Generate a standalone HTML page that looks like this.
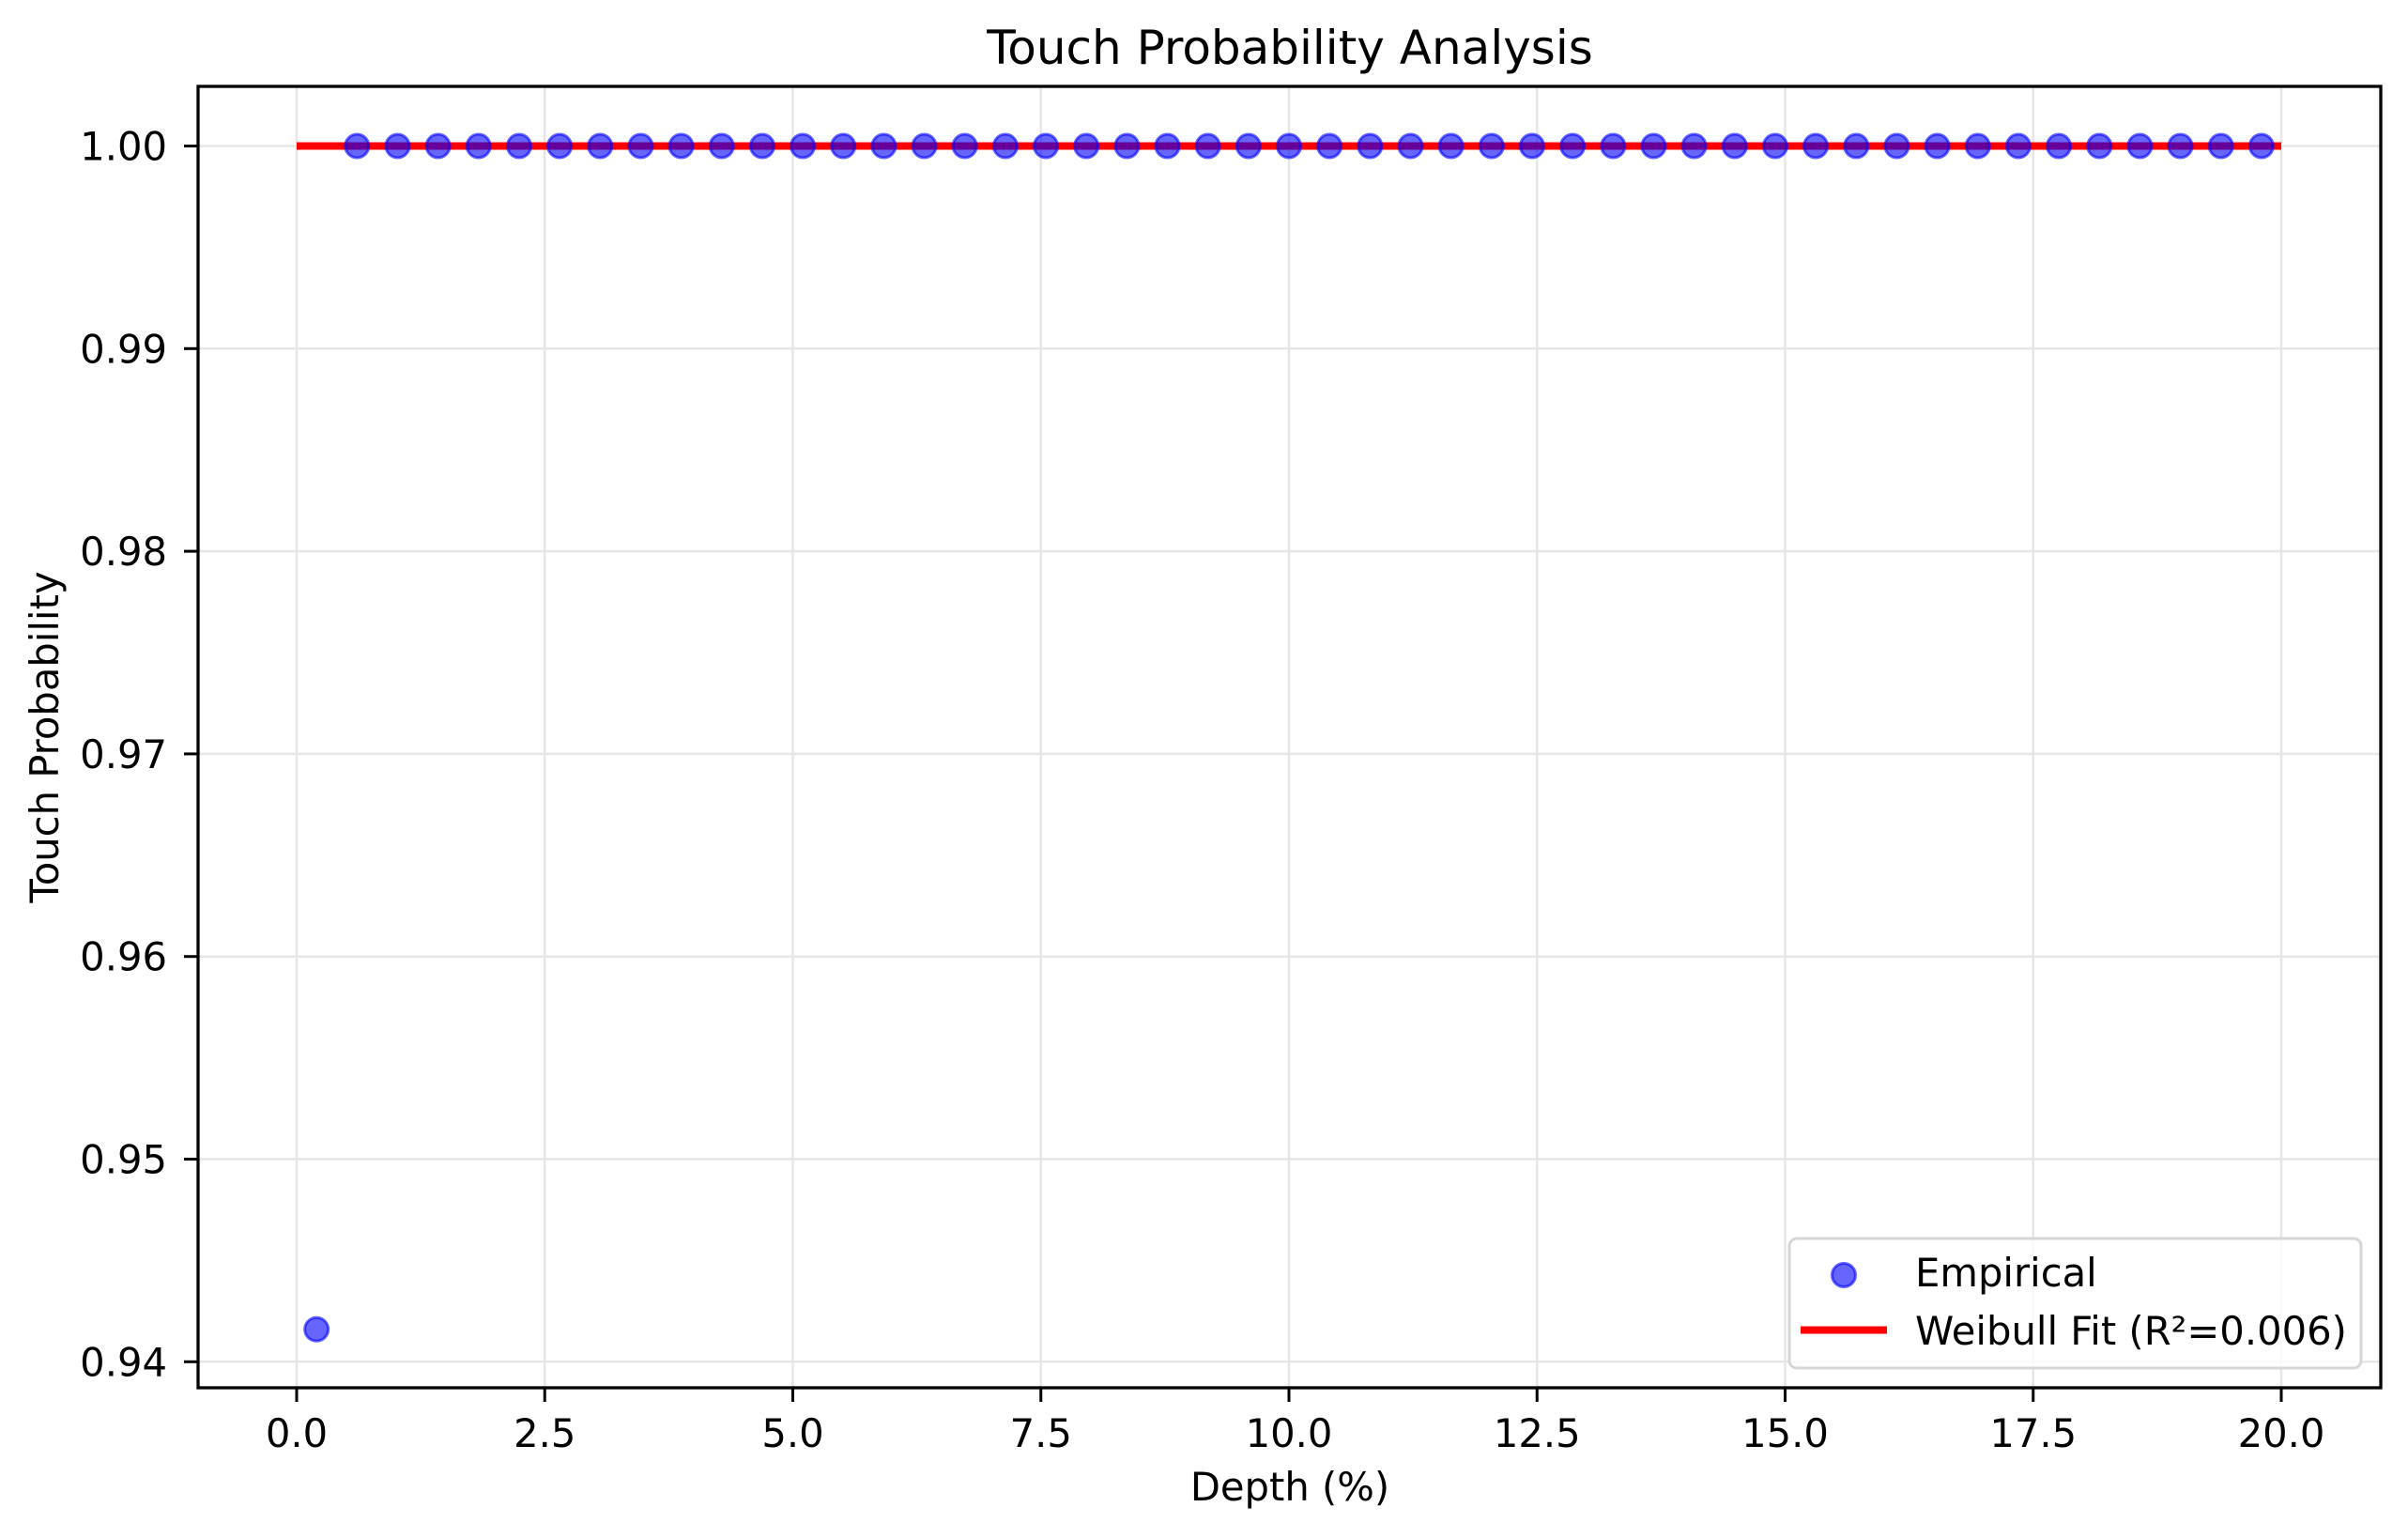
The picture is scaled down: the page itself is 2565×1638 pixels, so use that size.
<!DOCTYPE html>
<html><head><meta charset="utf-8"><style>
html,body{margin:0;padding:0;background:#fff;}
svg{display:block;font-family:"DejaVu Sans","Liberation Sans",sans-serif;}
</style></head><body>
<svg id="chart" width="2565" height="1638" viewBox="0 0 2565 1638" xmlns="http://www.w3.org/2000/svg">
<rect x="0" y="0" width="2565" height="1638" fill="#fff"/>
<g id="grid"></g>
<g id="fit"></g>
<g id="points"></g>
<g id="axes"></g>
<text x="1374" y="68" font-size="50" text-anchor="middle" fill="#000">Touch Probability Analysis</text>
<text x="1374" y="1598" font-size="41.7" text-anchor="middle" fill="#000">Depth (%)</text>
<text transform="translate(62,785) rotate(-90)" font-size="41.7" text-anchor="middle" fill="#000">Touch Probability</text>
<g>
<rect x="1906" y="1319" width="609" height="138" rx="8" fill="#fff" fill-opacity="0.8" stroke="#d6d6d6" stroke-width="3"/>
<circle cx="1964" cy="1358" r="12.5" fill="#0000ff" fill-opacity="0.6" stroke="#0000ff" stroke-opacity="0.6" stroke-width="3"/>
<text x="2040" y="1370" font-size="41.7" fill="#000">Empirical</text>
<line x1="1918" y1="1416.5" x2="2010" y2="1416.5" stroke="#ff0000" stroke-width="8"/>
<text x="2040" y="1432" font-size="41.7" fill="#000">Weibull Fit (R²=0.006)</text>
</g>
</svg>
<script>
const depths = [0.2,0.608,1.017,1.425,1.833,2.242,2.65,3.058,3.467,3.875,4.283,4.692,5.1,5.508,5.917,6.325,6.733,7.142,7.55,7.958,8.367,8.775,9.183,9.592,10.0,10.408,10.817,11.225,11.633,12.042,12.45,12.858,13.267,13.675,14.083,14.492,14.9,15.308,15.717,16.125,16.533,16.942,17.35,17.758,18.167,18.575,18.983,19.392,19.8];
const probabilities = [0.9416,1,1,1,1,1,1,1,1,1,1,1,1,1,1,1,1,1,1,1,1,1,1,1,1,1,1,1,1,1,1,1,1,1,1,1,1,1,1,1,1,1,1,1,1,1,1,1,1];
const fitX = [0, 20];
const fitY = [1.0, 1.0];
const xTicks = [0, 2.5, 5, 7.5, 10, 12.5, 15, 17.5, 20];
const xTickLabels = ["0.0","2.5","5.0","7.5","10.0","12.5","15.0","17.5","20.0"];
const yTicks = [0.94, 0.95, 0.96, 0.97, 0.98, 0.99, 1.00];
const yTickLabels = ["0.94","0.95","0.96","0.97","0.98","0.99","1.00"];

const L=211, R=2536, T=92, B=1478;
function sx(v){ return 316 + v*105.7; }
function sy(v){ return 155.5 + (1-v)*21580; }
const NS="http://www.w3.org/2000/svg";
function mk(tag, attrs, parent){ const e=document.createElementNS(NS,tag); for(const k in attrs) e.setAttribute(k,attrs[k]); parent.appendChild(e); return e; }
const grid=document.getElementById('grid'), axes=document.getElementById('axes'), pts=document.getElementById('points'), fit=document.getElementById('fit');

xTicks.forEach((v,i)=>{
  const x=sx(v);
  const g=mk('line',{x1:x,y1:T,x2:x,y2:B,stroke:'#e6e6e6','stroke-width':2.5},grid);
  
  
  const t=mk('line',{x1:x,y1:B,x2:x,y2:B+15,stroke:'#000','stroke-width':3},axes);
  
  
  const l=mk('text',{x:x,y:1541,'font-size':41.7,'text-anchor':'middle',fill:'#000'},axes);
  l.textContent=xTickLabels[i];
  
  
});
yTicks.forEach((v,i)=>{
  const y=sy(v);
  const g=mk('line',{x1:L,y1:y,x2:R,y2:y,stroke:'#e6e6e6','stroke-width':2.5},grid);
  
  
  const t=mk('line',{x1:L-15,y1:y,x2:L,y2:y,stroke:'#000','stroke-width':3},axes);
  
  
  const l=mk('text',{x:178,y:y+15,'font-size':41.7,'text-anchor':'end',fill:'#000'},axes);
  l.textContent=yTickLabels[i];
  
  
});
const frame=mk('rect',{x:L,y:T,width:R-L,height:B-T,fill:'none',stroke:'#000','stroke-width':3.3},axes);



const fl=mk('polyline',{points:fitX.map((x,i)=>sx(x)+','+sy(fitY[i])).join(' '),fill:'none',stroke:'#ff0000','stroke-width':8},fit);



depths.forEach((d,i)=>{
  const c=mk('circle',{cx:sx(d),cy:sy(probabilities[i]),r:12.5,fill:'#0000ff','fill-opacity':0.6,stroke:'#0000ff','stroke-opacity':0.6,'stroke-width':3},pts);
  
  
});
</script>
</body></html>
